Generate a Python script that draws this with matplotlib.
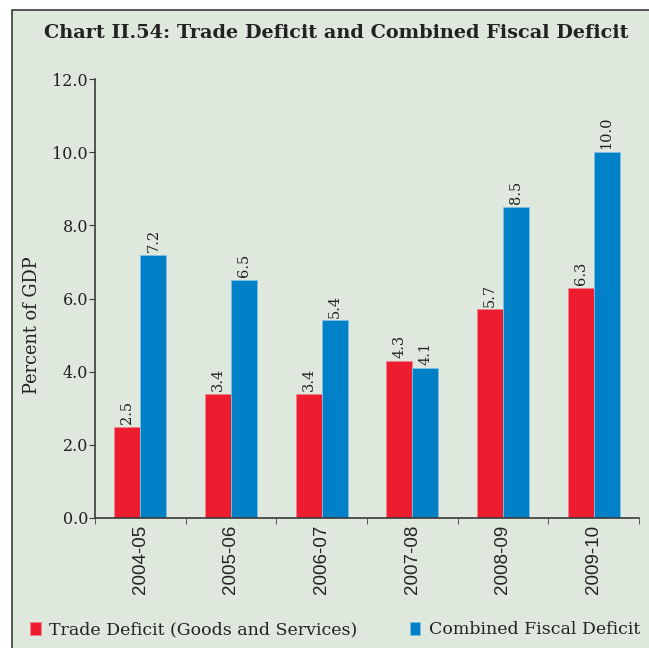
import numpy as np
import matplotlib.pyplot as plt
from matplotlib.patches import Rectangle

# data
years = ['2004-05', '2005-06', '2006-07', '2007-08', '2008-09', '2009-10']
trade_deficit = [2.5, 3.4, 3.4, 4.3, 5.7, 6.3]
fiscal_deficit = [7.2, 6.5, 5.4, 4.1, 8.5, 10.0]
yticks = [0, 2, 4, 6, 8, 10, 12]

red = '#ED1C2E'
blue = '#0080C6'
bg = '#DFE8DC'
dark = '#3a3a3a'

plt.rcParams['font.family'] = 'DejaVu Serif'

fig = plt.figure(figsize=(6.49, 6.48), dpi=100)
fig.patch.set_facecolor('white')
# panel background with frame on left/top
fig.patches.append(Rectangle((12 / 649, -0.05), 1.0, 1 - 10 / 648 + 0.05,
                             transform=fig.transFigure, facecolor=bg,
                             edgecolor=dark, linewidth=1.2, zorder=-5))

ax = fig.add_axes([95 / 649, 1 - 518 / 648, (639 - 95) / 649, (518 - 79) / 648])
ax.set_facecolor('none')

x = np.arange(len(years))
w = 0.285
b1 = ax.bar(x - w / 2, trade_deficit, w, color=red, edgecolor='#F0808A', linewidth=0.6,
            label='Trade Deficit (Goods and Services)')
b2 = ax.bar(x + w / 2, fiscal_deficit, w, color=blue, edgecolor='#7FC0E6', linewidth=0.6,
            label='Combined Fiscal Deficit')

for bars, vals in ((b1, trade_deficit), (b2, fiscal_deficit)):
    for r, v in zip(bars, vals):
        ax.text(r.get_x() + r.get_width() / 2, v + 0.08, '%.1f' % v,
                rotation=90, ha='center', va='bottom', fontsize=10.5, color='#222222')

ax.set_xlim(-0.5, len(years) - 0.5)
ax.set_ylim(0, 12)
ax.set_yticks(yticks)
ax.set_yticklabels(['%.1f' % t for t in yticks], fontsize=11.5, color='#222222')
ax.set_xticks(x)
ax.set_xticklabels(years, rotation=90, fontsize=13.5, color='#222222',
                   family='Liberation Sans')
ax.set_xticks(np.arange(-0.5, len(years)), minor=True)
ax.tick_params(axis='x', which='major', length=0, pad=5)
ax.tick_params(axis='x', which='minor', length=4, color=dark, direction='out')
ax.tick_params(axis='y', length=4, color=dark, pad=1)

for s in ['top', 'right']:
    ax.spines[s].set_visible(False)
for s in ['left', 'bottom']:
    ax.spines[s].set_color(dark)
    ax.spines[s].set_linewidth(1.2)

ax.set_ylabel('Percent of GDP', fontsize=12.8, color='#222222')
ax.yaxis.set_label_coords((41 - 95) / 544, (518 - 325) / 439)

fig.text(336 / 649, 1 - 33 / 648, 'Chart II.54: Trade Deficit and Combined Fiscal Deficit',
         ha='center', va='center', fontsize=13.9, fontweight='bold', color='#222222')

fig.legend(handles=[b1, b2], loc='center', bbox_to_anchor=(335 / 649, 1 - 630 / 648),
           ncol=2, frameon=False, fontsize=12.5, handlelength=0.6, handleheight=0.7,
           handletextpad=0.5, columnspacing=3.0, labelcolor='#222222')

fig.savefig('out.png', dpi=100, facecolor=fig.get_facecolor())
